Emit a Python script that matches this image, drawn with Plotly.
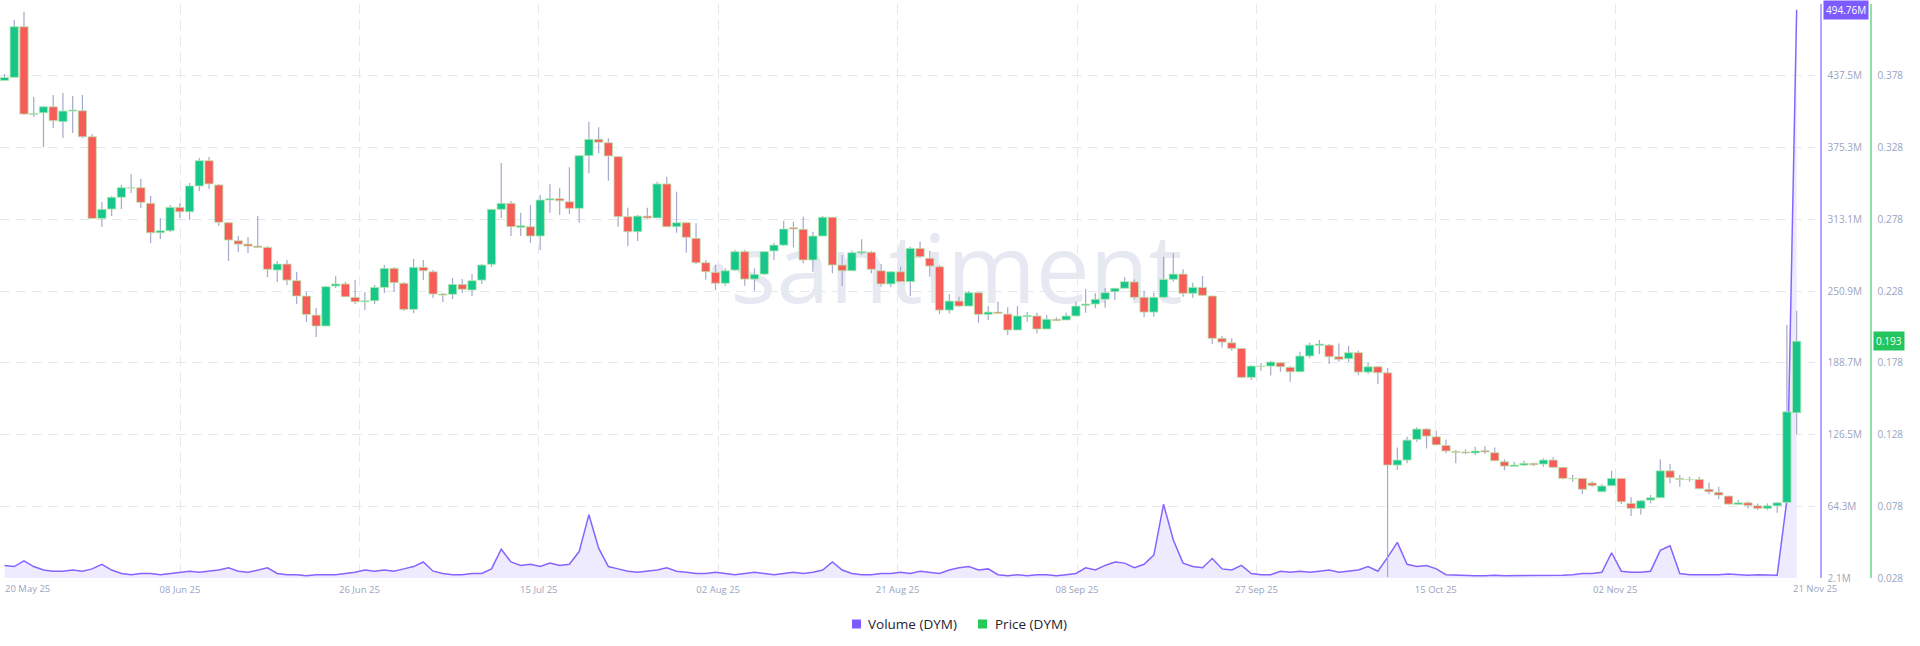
import pandas as pd
import plotly.graph_objects as go

# ---------------- data ----------------
start_date = "2025-05-21"
n_days = 185
dates = pd.date_range(start_date, periods=n_days, freq="D")

open_ = [
    0.3747, 0.3769, 0.4122, 0.3511, 0.3522, 0.3564, 0.3460, 0.3534, 0.3536, 0.3355,
    0.2786, 0.2851, 0.2933, 0.3000, 0.3000, 0.2891, 0.2686, 0.2700, 0.2863, 0.2832,
    0.3012, 0.3188, 0.3019, 0.2756, 0.2630, 0.2607, 0.2593, 0.2584, 0.2426, 0.2468,
    0.2352, 0.2245, 0.2112, 0.2036, 0.2315, 0.2329, 0.2236, 0.2205, 0.2212, 0.2305,
    0.2438, 0.2334, 0.2152, 0.2445, 0.2414, 0.2259, 0.2257, 0.2326, 0.2287, 0.2356,
    0.2466, 0.2849, 0.2891, 0.2724, 0.2728, 0.2663, 0.2914, 0.2923, 0.2902, 0.2856,
    0.3223, 0.3337, 0.3313, 0.3216, 0.2798, 0.2693, 0.2802, 0.2789, 0.3026, 0.2728,
    0.2756, 0.2647, 0.2477, 0.2410, 0.2334, 0.2426, 0.2554, 0.2363, 0.2398, 0.2559,
    0.2600, 0.2721, 0.2710, 0.2496, 0.2663, 0.2794, 0.2461, 0.2421, 0.2545, 0.2550,
    0.2421, 0.2329, 0.2414, 0.2345, 0.2577, 0.2508, 0.2449, 0.2147, 0.2210, 0.2175,
    0.2268, 0.2117, 0.2133, 0.2119, 0.2008, 0.2101, 0.2106, 0.2015, 0.2083, 0.2078,
    0.2106, 0.2180, 0.2189, 0.2222, 0.2275, 0.2299, 0.2343, 0.2236, 0.2133, 0.2236,
    0.2361, 0.2398, 0.2264, 0.2305, 0.2245, 0.1950, 0.1919, 0.1880, 0.1678, 0.1757,
    0.1757, 0.1780, 0.1748, 0.1717, 0.1827, 0.1901, 0.1903, 0.1822, 0.1808, 0.1850,
    0.1715, 0.1752, 0.1710, 0.1067, 0.1102, 0.1246, 0.1318, 0.1264, 0.1204, 0.1162,
    0.1158, 0.1151, 0.1167, 0.1153, 0.1090, 0.1058, 0.1067, 0.1079, 0.1074, 0.1102,
    0.1051, 0.0974, 0.0974, 0.0942, 0.0881, 0.0923, 0.0974, 0.0800, 0.0765, 0.0823,
    0.0839, 0.1027, 0.0974, 0.0967, 0.0967, 0.0898, 0.0877, 0.0851, 0.0793, 0.0804,
    0.0783, 0.0765, 0.0783, 0.0807, 0.1431,
]
high = [
    0.3792, 0.4169, 0.4226, 0.3632, 0.3569, 0.3646, 0.3660, 0.3639, 0.3646, 0.3374,
    0.2900, 0.2942, 0.3019, 0.3095, 0.3060, 0.2942, 0.2789, 0.2879, 0.2893, 0.3033,
    0.3207, 0.3214, 0.3026, 0.2761, 0.2663, 0.2656, 0.2802, 0.2593, 0.2489, 0.2496,
    0.2412, 0.2273, 0.2161, 0.2315, 0.2384, 0.2343, 0.2356, 0.2273, 0.2322, 0.2461,
    0.2447, 0.2343, 0.2503, 0.2496, 0.2426, 0.2266, 0.2370, 0.2363, 0.2398, 0.2468,
    0.2851, 0.3172, 0.2907, 0.2826, 0.2879, 0.2949, 0.3024, 0.3000, 0.3142, 0.3228,
    0.3460, 0.3421, 0.3344, 0.3221, 0.2860, 0.2809, 0.2860, 0.3042, 0.3076, 0.2972,
    0.2761, 0.2752, 0.2496, 0.2461, 0.2438, 0.2566, 0.2566, 0.2438, 0.2559, 0.2616,
    0.2770, 0.2763, 0.2798, 0.2693, 0.2802, 0.2796, 0.2531, 0.2561, 0.2640, 0.2559,
    0.2468, 0.2419, 0.2449, 0.2589, 0.2623, 0.2561, 0.2461, 0.2259, 0.2240, 0.2280,
    0.2273, 0.2175, 0.2205, 0.2166, 0.2175, 0.2133, 0.2128, 0.2113, 0.2097, 0.2128,
    0.2205, 0.2292, 0.2264, 0.2299, 0.2301, 0.2375, 0.2361, 0.2282, 0.2268, 0.2519,
    0.2543, 0.2431, 0.2338, 0.2384, 0.2248, 0.1966, 0.1950, 0.1882, 0.1764, 0.1780,
    0.1792, 0.1785, 0.1757, 0.1857, 0.1919, 0.1938, 0.1910, 0.1915, 0.1896, 0.1864,
    0.1780, 0.1757, 0.1743, 0.1190, 0.1264, 0.1330, 0.1325, 0.1306, 0.1246, 0.1172,
    0.1177, 0.1195, 0.1200, 0.1190, 0.1107, 0.1090, 0.1097, 0.1084, 0.1114, 0.1121,
    0.1053, 0.0997, 0.0976, 0.0955, 0.0935, 0.1027, 0.0976, 0.0842, 0.0823, 0.0858,
    0.1107, 0.1074, 0.0997, 0.0985, 0.0985, 0.0944, 0.0916, 0.0854, 0.0823, 0.0813,
    0.0800, 0.0800, 0.0809, 0.2043, 0.2143,
]
low = [
    0.3743, 0.3764, 0.3506, 0.3492, 0.3283, 0.3416, 0.3346, 0.3381, 0.3346, 0.2782,
    0.2726, 0.2802, 0.2851, 0.2963, 0.2858, 0.2614, 0.2642, 0.2691, 0.2789, 0.2775,
    0.2977, 0.2991, 0.2733, 0.2489, 0.2552, 0.2545, 0.2579, 0.2377, 0.2342, 0.2322,
    0.2189, 0.2064, 0.1959, 0.2036, 0.2301, 0.2238, 0.2189, 0.2147, 0.2189, 0.2266,
    0.2273, 0.2140, 0.2126, 0.2356, 0.2231, 0.2203, 0.2224, 0.2266, 0.2245, 0.2329,
    0.2447, 0.2789, 0.2663, 0.2663, 0.2616, 0.2566, 0.2826, 0.2810, 0.2816, 0.2756,
    0.3100, 0.3240, 0.3049, 0.2728, 0.2593, 0.2628, 0.2782, 0.2789, 0.2726, 0.2686,
    0.2547, 0.2468, 0.2361, 0.2287, 0.2317, 0.2419, 0.2317, 0.2282, 0.2391, 0.2496,
    0.2593, 0.2584, 0.2473, 0.2414, 0.2663, 0.2403, 0.2315, 0.2419, 0.2531, 0.2403,
    0.2310, 0.2306, 0.2342, 0.2245, 0.2510, 0.2379, 0.2119, 0.2124, 0.2170, 0.2175,
    0.2059, 0.2078, 0.2119, 0.1973, 0.2008, 0.2066, 0.1985, 0.2015, 0.2071, 0.2078,
    0.2106, 0.2128, 0.2159, 0.2163, 0.2217, 0.2299, 0.2222, 0.2097, 0.2101, 0.2231,
    0.2345, 0.2240, 0.2233, 0.2245, 0.1910, 0.1887, 0.1864, 0.1673, 0.1659, 0.1724,
    0.1692, 0.1717, 0.1648, 0.1715, 0.1811, 0.1841, 0.1771, 0.1787, 0.1787, 0.1694,
    0.1701, 0.1632, 0.0286, 0.1032, 0.1079, 0.1229, 0.1183, 0.1206, 0.1149, 0.1079,
    0.1144, 0.1137, 0.1144, 0.1095, 0.1032, 0.1053, 0.1060, 0.1060, 0.1055, 0.1046,
    0.0969, 0.0951, 0.0865, 0.0914, 0.0879, 0.0921, 0.0795, 0.0712, 0.0723, 0.0800,
    0.0837, 0.0940, 0.0916, 0.0951, 0.0900, 0.0863, 0.0828, 0.0792, 0.0788, 0.0765,
    0.0753, 0.0753, 0.0735, 0.0802, 0.1281,
]
close = [
    0.3768, 0.4122, 0.3513, 0.3517, 0.3564, 0.3467, 0.3534, 0.3541, 0.3355, 0.2786,
    0.2849, 0.2933, 0.3000, 0.2998, 0.2898, 0.2686, 0.2700, 0.2863, 0.2832, 0.3012,
    0.3188, 0.3026, 0.2759, 0.2635, 0.2607, 0.2593, 0.2584, 0.2431, 0.2468, 0.2356,
    0.2245, 0.2117, 0.2036, 0.2310, 0.2329, 0.2240, 0.2205, 0.2212, 0.2305, 0.2438,
    0.2338, 0.2152, 0.2445, 0.2421, 0.2259, 0.2252, 0.2326, 0.2292, 0.2352, 0.2461,
    0.2849, 0.2891, 0.2728, 0.2735, 0.2663, 0.2914, 0.2923, 0.2909, 0.2856, 0.3223,
    0.3337, 0.3316, 0.3221, 0.2798, 0.2693, 0.2802, 0.2789, 0.3026, 0.2728, 0.2756,
    0.2654, 0.2477, 0.2414, 0.2334, 0.2421, 0.2554, 0.2363, 0.2396, 0.2554, 0.2600,
    0.2712, 0.2712, 0.2496, 0.2663, 0.2794, 0.2461, 0.2421, 0.2547, 0.2554, 0.2431,
    0.2329, 0.2414, 0.2345, 0.2577, 0.2519, 0.2454, 0.2147, 0.2210, 0.2175, 0.2268,
    0.2117, 0.2133, 0.2124, 0.2008, 0.2106, 0.2110, 0.2015, 0.2083, 0.2073, 0.2106,
    0.2175, 0.2189, 0.2222, 0.2268, 0.2299, 0.2345, 0.2236, 0.2133, 0.2236, 0.2361,
    0.2398, 0.2264, 0.2305, 0.2250, 0.1950, 0.1924, 0.1880, 0.1678, 0.1757, 0.1754,
    0.1785, 0.1752, 0.1717, 0.1827, 0.1903, 0.1910, 0.1822, 0.1804, 0.1850, 0.1715,
    0.1752, 0.1710, 0.1067, 0.1102, 0.1241, 0.1318, 0.1269, 0.1208, 0.1165, 0.1155,
    0.1151, 0.1165, 0.1158, 0.1097, 0.1060, 0.1067, 0.1079, 0.1069, 0.1102, 0.1051,
    0.0974, 0.0971, 0.0898, 0.0924, 0.0921, 0.0974, 0.0811, 0.0765, 0.0818, 0.0839,
    0.1027, 0.0979, 0.0967, 0.0966, 0.0902, 0.0881, 0.0858, 0.0795, 0.0804, 0.0786,
    0.0765, 0.0783, 0.0804, 0.1438, 0.1930,
]
volume_m = [
    13, 12, 17, 12, 9, 8, 8, 9, 8, 10,
    14, 9, 6, 5, 6, 6, 5, 6, 7, 8,
    7, 8, 9, 11, 8, 7, 9, 11, 6, 5,
    5, 4, 5, 5, 5, 6, 7, 9, 8, 9,
    8, 10, 12, 16, 8, 6, 5, 5, 6, 6,
    10, 27, 16, 13, 14, 12, 15, 13, 14, 25,
    57, 28, 12, 10, 8, 7, 8, 9, 11, 8,
    7, 6, 6, 7, 6, 5, 6, 7, 6, 5,
    6, 7, 6, 7, 9, 16, 9, 6, 5, 5,
    6, 6, 7, 6, 8, 7, 6, 9, 11, 12,
    9, 10, 5, 4, 5, 4, 5, 5, 4, 5,
    6, 11, 9, 13, 16, 15, 11, 14, 22, 66,
    35, 15, 12, 11, 19, 10, 9, 13, 6, 5,
    5, 8, 7, 8, 7, 8, 9, 7, 8, 9,
    12, 8, 20, 33, 14, 12, 13, 10, 5, 4.5,
    4.5, 4, 4, 4.5, 4, 4, 4, 4.5, 4, 4.5,
    4.5, 5, 6, 6, 7, 24, 8, 7, 7, 8,
    26, 30, 6, 5, 5, 4.5, 5, 5.5, 5, 4.5,
    5, 5, 4.5, 70, 494.76,
]

x_tick_labels = ["08 Jun 25", "26 Jun 25", "15 Jul 25", "02 Aug 25", "21 Aug 25",
                 "08 Sep 25", "27 Sep 25", "15 Oct 25", "02 Nov 25"]
x_edge_labels = ["20 May 25", "21 Nov 25"]
price_ticks = [0.028, 0.078, 0.128, 0.178, 0.228, 0.278, 0.328, 0.378, 0.428]
volume_ticks = [2.1, 64.3, 126.5, 188.7, 250.9, 313.1, 375.3, 437.5, 499.7]
volume_tick_labels = ["2.1M", "64.3M", "126.5M", "188.7M", "250.9M",
                      "313.1M", "375.3M", "437.5M", "499.7M"]
legend_labels = ["Volume (DYM)", "Price (DYM)"]

# ---------------- geometry / style ----------------
W, H = 1920, 646
PLOT_TOP, PLOT_BOTTOM = 4, 578
PLOT_RIGHT = 1815
PX_PER_DAY = 9.74
FIRST_PX = 4.5
DAY = pd.Timedelta(days=1)

GREEN = "#16c68a"
RED = "#f85c58"
WICK = "#a3a9cb"
VOL_LINE = "#8764ff"
VOL_FILL = "#efebff"
GRID = "#e6e8f0"
TICK_COL = "#9aa4c0"
FONT = "Open Sans"
TICK_SIZE = 10
DATE_SIZE = 9.5


def px_to_date(px):
    return dates[0] + DAY * ((px - FIRST_PX) / PX_PER_DAY)


def paper_y(px):
    return (PLOT_BOTTOM - px) / (PLOT_BOTTOM - PLOT_TOP)


x_range = [px_to_date(0), px_to_date(PLOT_RIGHT)]
tick_px = [180 + 179.4 * k for k in range(len(x_tick_labels))]
x_tickvals = [px_to_date(p) for p in tick_px]

body_base = [min(o, c) for o, c in zip(open_, close)]
body_h = [abs(c - o) for o, c in zip(open_, close)]
body_col = [GREEN if c >= o else RED for o, c in zip(open_, close)]
wick_h = [h - l for h, l in zip(high, low)]
ms_per_day = 86400000
body_w = ms_per_day * 8.3 / PX_PER_DAY
wick_w = ms_per_day * 1.2 / PX_PER_DAY

fig = go.Figure()

# watermark (below candles: drawn on the volume subplot)
wm_y = volume_ticks[0] + (PLOT_BOTTOM - 279) * (volume_ticks[-1] - volume_ticks[0]) / (PLOT_BOTTOM - PLOT_TOP)
fig.add_trace(go.Scatter(
    x=[px_to_date(944)], y=[wm_y], mode="text", text=["·santiment"],
    textposition="middle center",
    textfont=dict(family=FONT, size=96, color="#e6e8f2"),
    hoverinfo="skip", showlegend=False, yaxis="y"))

fig.add_trace(go.Scatter(
    x=dates, y=volume_m, mode="lines", name=legend_labels[0],
    line=dict(color=VOL_LINE, width=1.5), fill="tozeroy", fillcolor=VOL_FILL,
    hoverinfo="skip", showlegend=False, yaxis="y"))

fig.add_trace(go.Bar(
    x=dates, y=wick_h, base=low, width=wick_w, marker=dict(color=WICK, line=dict(width=0)),
    hoverinfo="skip", showlegend=False, yaxis="y2"))
fig.add_trace(go.Bar(
    x=dates, y=body_h, base=body_base, width=body_w, name=legend_labels[1],
    marker=dict(color=body_col, line=dict(color="#b7e7ae", width=0.8)),
    hoverinfo="skip", showlegend=False, yaxis="y2"))

fig.update_layout(
    width=W, height=H,
    margin=dict(l=0, r=0, t=PLOT_TOP, b=H - PLOT_BOTTOM, autoexpand=False),
    paper_bgcolor="white", plot_bgcolor="white",
    barmode="overlay",
    showlegend=False,
    hovermode=False,
    font=dict(family=FONT, color=TICK_COL, size=TICK_SIZE),
    xaxis=dict(
        type="date", domain=[0, PLOT_RIGHT / W], range=x_range,
        tickmode="array", tickvals=x_tickvals, ticktext=x_tick_labels,
        showgrid=True, gridcolor=GRID, griddash="10px,6px", gridwidth=1,
        zeroline=False, showline=False, ticks="", ticklen=0,
        tickfont=dict(family=FONT, size=DATE_SIZE, color=TICK_COL),
        ticklabelstandoff=4,
    ),
    yaxis=dict(
        range=[volume_ticks[0], volume_ticks[-1]], side="right", anchor="free",
        position=1820 / W, tickmode="array", tickvals=volume_ticks, ticktext=volume_tick_labels,
        showgrid=True, gridcolor=GRID, griddash="10px,6px", gridwidth=1,
        zeroline=False, showline=True, linecolor="#b6a6ff", linewidth=1.6,
        ticks="outside", ticklen=4, tickcolor="rgba(0,0,0,0)",
        tickfont=dict(family=FONT, size=TICK_SIZE, color=TICK_COL), automargin=False,
    ),
    yaxis2=dict(
        range=[price_ticks[0], price_ticks[-1]], side="right", anchor="free",
        overlaying="y", position=1870 / W, tickmode="array", tickvals=price_ticks,
        ticktext=[f"{v:.3f}" for v in price_ticks],
        showgrid=False, zeroline=False, showline=True, linecolor="#8fe2a4", linewidth=1.6,
        ticks="outside", ticklen=4, tickcolor="rgba(0,0,0,0)",
        tickfont=dict(family=FONT, size=TICK_SIZE, color=TICK_COL), automargin=False,
    ),
)

annotations = [
    dict(x=27 / W, y=paper_y(588), xref="paper", yref="paper", text=x_edge_labels[0],
         showarrow=False, xanchor="center", yanchor="middle",
         font=dict(family=FONT, size=DATE_SIZE, color=TICK_COL)),
    dict(x=1815 / W, y=paper_y(588), xref="paper", yref="paper", text=x_edge_labels[1],
         showarrow=False, xanchor="center", yanchor="middle",
         font=dict(family=FONT, size=DATE_SIZE, color=TICK_COL)),
    dict(x=1823 / W, y=volume_m[-1], xref="paper", yref="y", text=f"{volume_m[-1]:.2f}M",
         showarrow=False, xanchor="left", yanchor="middle", bgcolor="#7d5cff",
         borderpad=2, font=dict(family=FONT, size=TICK_SIZE, color="white")),
    dict(x=1873 / W, y=close[-1], xref="paper", yref="y2", text=f"{close[-1]:.3f}",
         showarrow=False, xanchor="left", yanchor="middle", bgcolor="#22c55e",
         borderpad=2, font=dict(family=FONT, size=TICK_SIZE, color="white")),
    dict(x=866 / W, y=paper_y(624), xref="paper", yref="paper", text=legend_labels[0],
         showarrow=False, xanchor="left", yanchor="middle",
         font=dict(family=FONT, size=13.5, color="#1f2433")),
    dict(x=993 / W, y=paper_y(624), xref="paper", yref="paper", text=legend_labels[1],
         showarrow=False, xanchor="left", yanchor="middle",
         font=dict(family=FONT, size=13.5, color="#1f2433")),
]
shapes = [
    dict(type="rect", xref="paper", yref="paper", x0=852 / W, x1=861 / W,
         y0=paper_y(628.5), y1=paper_y(619.5), fillcolor="#7d5cff", line=dict(width=0)),
    dict(type="rect", xref="paper", yref="paper", x0=978 / W, x1=987 / W,
         y0=paper_y(628.5), y1=paper_y(619.5), fillcolor="#26c953", line=dict(width=0)),
]
fig.update_layout(annotations=annotations, shapes=shapes)

# remove the browser's default 8px page margin so the figure sits at (0, 0)
fig.write_html(
    "out.html",
    config={"displayModeBar": False, "staticPlot": True},
    post_script="document.body.style.margin='0';document.body.style.overflow='hidden';",
)
